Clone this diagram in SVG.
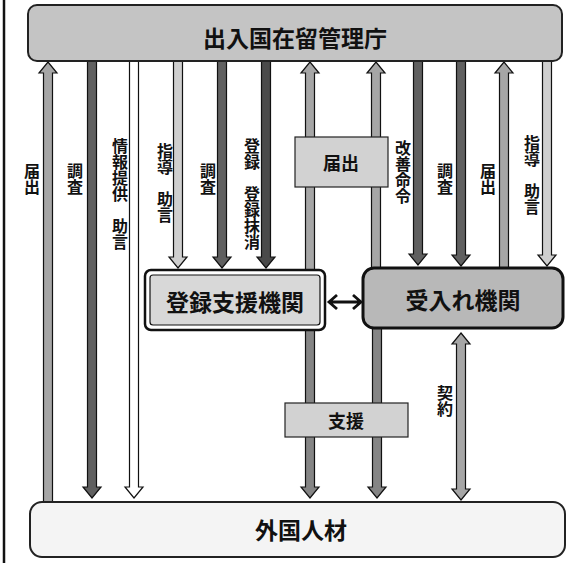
<svg xmlns="http://www.w3.org/2000/svg" width="571" height="563" viewBox="0 0 571 563">
<style>
text{font-family:"Noto Sans CJK JP","Noto Sans CJK SC",sans-serif;fill:#111}
.v{writing-mode:vertical-rl;font-size:16px;font-weight:bold}
.big{font-size:23px;font-weight:bold;text-anchor:middle;dominant-baseline:central}
.mid-t{font-size:18px;font-weight:bold;text-anchor:middle;dominant-baseline:central}
.ar{stroke:#111;stroke-width:1.2;stroke-linejoin:miter}
.mid{fill:#a6a6a6}
.dark{fill:#606060}
.darker{fill:#4a4a4a}
.light{fill:#cfcfcf}
.white{fill:#ffffff}
.sup{fill:#858585}
</style>
<line x1="4" y1="0" x2="4" y2="563" stroke="#111" stroke-width="2.5"/>
<g id="connectors">
<path class="ar mid" d="M43.5,505 V73 H39 L48,62 L57,73 H52.5 V505 Z"/>
<path class="ar dark" d="M87.5,58 V487 H83 L92,498 L101,487 H96.5 V58 Z"/>
<path class="ar white" d="M129.5,58 V487 H125 L134,498 L143,487 H138.5 V58 Z"/>
<path class="ar light" d="M173.5,58 V257 H169 L178,268 L187,257 H182.5 V58 Z"/>
<path class="ar dark" d="M217.5,58 V257 H213 L222,268 L231,257 H226.5 V58 Z"/>
<path class="ar darker" d="M261.5,58 V257 H257 L266,268 L275,257 H270.5 V58 Z"/>
<path class="ar mid" d="M305.5,275 V73 H301 L310,62 L319,73 H314.5 V275 Z"/>
<path class="ar mid" d="M371.5,275 V73 H367 L376,62 L385,73 H380.5 V275 Z"/>
<path class="ar dark" d="M413.5,58 V254 H409 L418,265 L427,254 H422.5 V58 Z"/>
<path class="ar dark" d="M456.5,58 V255 H452 L461,266 L470,255 H465.5 V58 Z"/>
<path class="ar mid" d="M499.5,275 V73 H495 L504,62 L513,73 H508.5 V275 Z"/>
<path class="ar light" d="M542.5,58 V255 H538 L547,266 L556,255 H551.5 V58 Z"/>
<path class="ar sup" d="M305.5,325 V487 H301 L310,498 L319,487 H314.5 V325 Z"/>
<path class="ar sup" d="M372.5,323 V487 H368 L377,498 L386,487 H381.5 V323 Z"/>
<path class="ar mid" d="M461,333 L470,344 H465.5 V489 H470 L461,500 L452,489 H456.5 V344 H452 Z"/>
<path d="M329,302 H361 M337,295 L329,302 L337,309 M353,295 L361,302 L353,309" fill="none" stroke="#111" stroke-width="2.8"/>
<text class="v" x="32" y="163">届出</text>
<text class="v" x="75" y="163">調査</text>
<text class="v" x="120" y="138">情報提供　助言</text>
<text class="v" x="165" y="143">指導　助言</text>
<text class="v" x="208" y="163">調査</text>
<text class="v" x="252" y="138">登録　登録抹消</text>
<text class="v" x="403" y="140">改善命令</text>
<text class="v" x="445" y="163">調査</text>
<text class="v" x="488" y="163">届出</text>
<text class="v" x="532" y="135">指導　助言</text>
<text class="v" x="445" y="385">契約</text>
</g>
<g id="immigration">
<rect x="28" y="5" width="534" height="56" rx="9" fill="#c4c4c4" stroke="#222" stroke-width="2"/>
<text class="big" x="295" y="37">出入国在留管理庁</text>
</g>
<g id="notify-box">
<rect x="295" y="137" width="93" height="50" fill="#d2d2d2" stroke="#222" stroke-width="1.2"/>
<text class="mid-t" x="341" y="162">届出</text>
</g>
<g id="support-org">
<rect x="145" y="270" width="180" height="60" rx="6" fill="#fff" stroke="#111" stroke-width="2.5"/>
<rect x="150" y="275" width="170" height="50" rx="3" fill="#d8d8d8" stroke="#111" stroke-width="1.2"/>
<text class="big" x="235" y="301">登録支援機関</text>
</g>
<g id="host-org">
<rect x="363" y="268" width="200" height="60" rx="11" fill="#b8b8b8" stroke="#111" stroke-width="3"/>
<text class="big" x="463" y="299">受入れ機関</text>
</g>
<g id="support-box">
<rect x="285" y="403" width="123" height="34" fill="#d2d2d2" stroke="#222" stroke-width="1.2"/>
<text class="mid-t" x="346" y="420">支援</text>
</g>
<g id="foreign-talent">
<rect x="30" y="502" width="535" height="55" rx="12" fill="#f4f4f4" stroke="#222" stroke-width="2"/>
<text class="big" x="301" y="529">外国人材</text>
</g>
</svg>
